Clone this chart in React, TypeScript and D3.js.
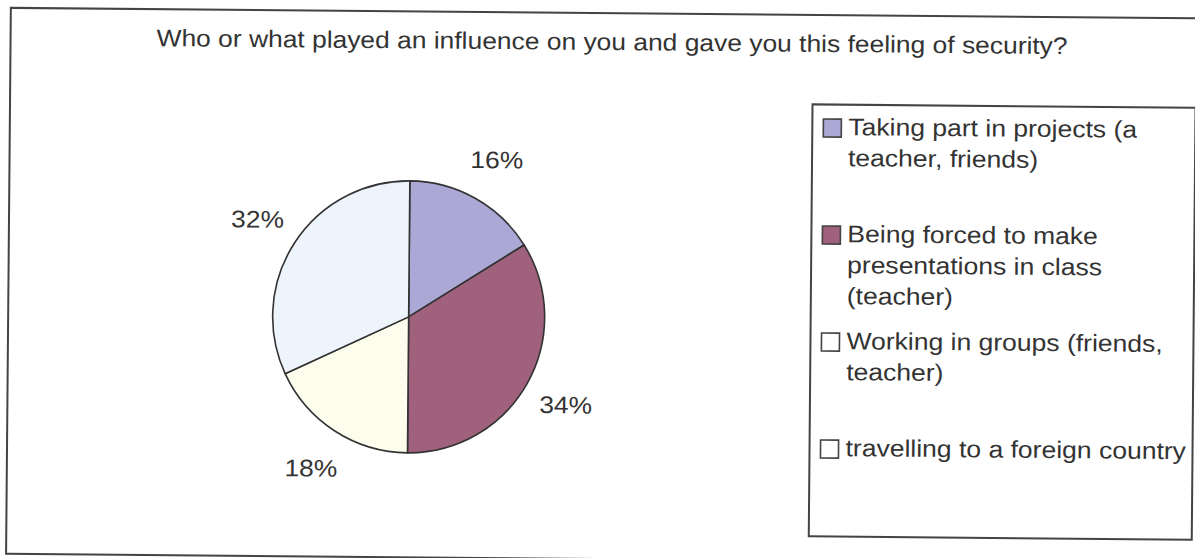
import React from "react";
import * as d3 from "d3";

const title = "Who or what played an influence on you and gave you this feeling of security?";
const categories = [
  "Taking part in projects (a teacher, friends)",
  "Being forced to make presentations in class (teacher)",
  "Working in groups (friends, teacher)",
  "travelling to a foreign country",
];
const legendLines = [
  ["Taking part in projects (a", "teacher, friends)"],
  ["Being forced to make", "presentations in class", "(teacher)"],
  ["Working in groups (friends,", "teacher)"],
  ["travelling to a foreign country"],
];
const values = [16, 34, 18, 32];
const colors = ["#aba8d6", "#a0617d", "#fdfdee", "#eef4fb"];
const swatchColors = ["#aba8d6", "#a0617d", "#ffffff", "#ffffff"];

const W = 1195;
const H = 558;
const FONT = "'Liberation Sans', Arial, Helvetica, sans-serif";
const SX = 1.1;
const SXL = 1.105;
const ink = "#333";

export default function App() {
  const cx = 409;
  const cy = 318.5;
  const r = 136;
  const pie = d3.pie<number>().sort(null).value((d) => d)(values);
  const arc = d3.arc<d3.PieArcDatum<number>>().innerRadius(0).outerRadius(r);
  const labelArc = d3.arc<d3.PieArcDatum<number>>().innerRadius(180).outerRadius(180);
  const total = d3.sum(values);
  const fmt = d3.format(".0%");

  const legendX = 811;
  const legendY = 102.5;
  const legendW = 383;
  const legendH = 432;
  const firstBaseline = 133;
  const entryStep = 107;
  const lineStep = 31;
  const swatchX = 822;
  const textX = 847;

  return (
    <svg width={W} height={H} style={{ position: "absolute", left: 0, top: 0, background: "#fff" }}>
      <g transform={`rotate(0.5, ${W / 2}, ${H / 2})`}>
        {/* outer frame */}
        <rect x={8.5} y={13} width={1250} height={546} fill="#fff" stroke="#444" strokeWidth={2} />
        {/* title */}
        <text
          transform={`translate(610,50) scale(${SX},1)`}
          textAnchor="middle"
          fontFamily={FONT}
          fontSize={24}
          fill={ink}
        >
          {title}
        </text>
        {/* pie */}
        <g transform={`translate(${cx},${cy})`}>
          {pie.map((d, i) => (
            <path key={i} d={arc(d) || ""} fill={colors[i]} stroke="#333" strokeWidth={1.6} strokeLinejoin="round" />
          ))}
          {pie.map((d, i) => {
            const [lx, ly] = labelArc.centroid(d);
            return (
              <text
                key={"l" + i}
                transform={`translate(${lx},${ly}) scale(${SX},1)`}
                textAnchor="middle"
                dy="0.35em"
                fontFamily={FONT}
                fontSize={24}
                fill={ink}
              >
                {fmt(d.data / total)}
              </text>
            );
          })}
        </g>
        {/* legend */}
        <rect x={legendX} y={legendY} width={legendW} height={legendH} fill="#fff" stroke="#444" strokeWidth={2} />
        {categories.map((c, i) => {
          const by = firstBaseline + i * entryStep;
          return (
            <g key={c}>
              <rect
                x={swatchX}
                y={by - 16}
                width={18}
                height={18}
                fill={swatchColors[i]}
                stroke="#444"
                strokeWidth={1.6}
              />
              {legendLines[i].map((ln, j) => (
                <text
                  key={j}
                  transform={`translate(${textX},${by + j * lineStep}) scale(${SXL},1)`}
                  fontFamily={FONT}
                  fontSize={24}
                  fill={ink}
                >
                  {ln}
                </text>
              ))}
            </g>
          );
        })}
      </g>
    </svg>
  );
}
